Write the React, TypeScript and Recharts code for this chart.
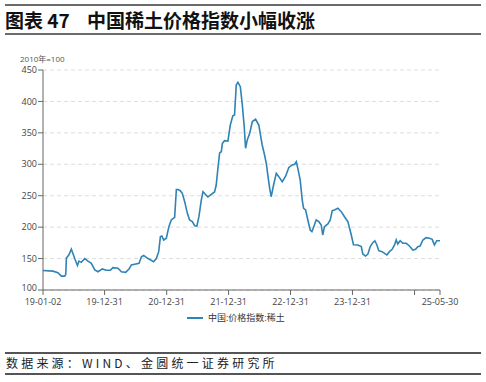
import { LineChart, Line, XAxis, YAxis, CartesianGrid } from 'recharts';

// 中国:价格指数:稀土 (2010年=100)
const dates = [
  '2019-01-02', '2019-03-02', '2019-03-31', '2019-04-20', '2019-05-10', '2019-05-16', '2019-05-20',
  '2019-06-04', '2019-06-18', '2019-07-08', '2019-07-24', '2019-08-02', '2019-08-16', '2019-09-05',
  '2019-09-24', '2019-10-14', '2019-11-03', '2019-11-22', '2019-12-18', '2020-01-10', '2020-02-03',
  '2020-02-18', '2020-03-19', '2020-04-08', '2020-05-03', '2020-05-23', '2020-06-06', '2020-06-25',
  '2020-07-21', '2020-08-04', '2020-08-17', '2020-09-12', '2020-10-15', '2020-10-31', '2020-11-14',
  '2020-11-24', '2020-12-03', '2020-12-13', '2020-12-29', '2021-01-13', '2021-01-27', '2021-02-16',
  '2021-02-26', '2021-03-07', '2021-03-21', '2021-04-02', '2021-04-16', '2021-05-02', '2021-05-15',
  '2021-05-31', '2021-06-14', '2021-06-27', '2021-07-09', '2021-07-23', '2021-08-02', '2021-08-13',
  '2021-08-31', '2021-09-14', '2021-10-09', '2021-10-19', '2021-10-29', '2021-11-08', '2021-11-18',
  '2021-11-24', '2021-12-07', '2021-12-27', '2022-01-10', '2022-01-25', '2022-02-04', '2022-02-14',
  '2022-02-24', '2022-03-10', '2022-03-22', '2022-04-02', '2022-04-10', '2022-04-20', '2022-05-04',
  '2022-05-20', '2022-06-08', '2022-06-27', '2022-07-17', '2022-07-31', '2022-08-10', '2022-08-19',
  '2022-08-30', '2022-09-08', '2022-09-22', '2022-10-08', '2022-10-23', '2022-11-12', '2022-12-02',
  '2022-12-21', '2023-01-10', '2023-01-24', '2023-02-03', '2023-02-12', '2023-02-26', '2023-03-10',
  '2023-03-18', '2023-03-30', '2023-04-12', '2023-04-26', '2023-05-06', '2023-05-17', '2023-05-31',
  '2023-06-16', '2023-06-30', '2023-07-09', '2023-07-19', '2023-08-08', '2023-08-22', '2023-09-03',
  '2023-09-16', '2023-10-06', '2023-10-26', '2023-11-14', '2023-12-04', '2023-12-14', '2023-12-24',
  '2024-01-06', '2024-02-01', '2024-02-21', '2024-03-01', '2024-03-17', '2024-03-31', '2024-04-14',
  '2024-04-29', '2024-05-11', '2024-05-23', '2024-06-03', '2024-06-23', '2024-07-07', '2024-07-21',
  '2024-08-05', '2024-08-21', '2024-09-04', '2024-09-14', '2024-09-23', '2024-10-07', '2024-10-23',
  '2024-11-12', '2024-12-01', '2024-12-21', '2025-01-06', '2025-01-19', '2025-02-02', '2025-02-18',
  '2025-03-10', '2025-03-29', '2025-04-14', '2025-04-27', '2025-05-11', '2025-05-30',
];

const values = [
  131, 130, 127.5, 122, 122, 125, 151,
  156, 165, 150, 139, 146, 144, 150,
  146, 142.5, 132, 129, 133.5, 131.5, 131.5,
  135.5, 134.5, 129, 128, 133.5, 140, 141,
  142.5, 153, 155, 150, 145, 150, 161,
  185, 186, 179.6, 182.3, 200.7, 211.4, 215.7,
  260, 260, 258, 253.8, 240.5, 222, 211.4,
  208.7, 202.3, 201.8, 216.6, 243, 256.4, 253,
  248, 251, 256, 267, 293.6, 318, 320,
  333, 337.6, 337, 362.5, 377, 378.4, 426,
  430.4, 423.5, 394, 360, 325.4, 338.7, 349,
  368, 371.6, 362.5, 330.7, 314.8, 301.6, 283,
  261.8, 248.4, 267, 285.7, 280.3, 272.3, 281,
  295, 299, 300, 304, 293.6, 275, 243,
  230, 227.3, 211.4, 195.5, 192.8, 200.7, 211.4,
  208.7, 203.4, 187.5, 200.7, 205, 211.4, 226.2,
  227.3, 230, 224.6, 216.6, 208.7, 198.2, 187.5,
  172, 171.6, 169, 157.3, 154, 157.3, 169,
  175.3, 178.4, 171.6, 162.5, 161, 158.4, 155.7,
  161, 164.7, 171.6, 179.6, 173.2, 178.4, 174.3,
  174.3, 170, 163.6, 164.7, 168.9, 170, 179.6,
  183.2, 182.3, 180.6, 171.6, 178.4, 178.4,
];

const xTickDates = ['2019-01-02', '2019-12-31', '2020-12-31', '2021-12-31', '2022-12-31', '2023-12-31', '2024-12-31', '2025-05-30'];
const hiddenTickDates = ['2024-12-31'];
const yTicks = [100, 150, 200, 250, 300, 350, 400, 450];

const seriesName = '中国:价格指数:稀土';
const unitLabel = '2010年=100';
const title = '图表 47';
const subtitle = '中国稀土价格指数小幅收涨';
const source = '数据来源：WIND、金圆统一证券研究所';

const toTime = (d: string) => Date.parse(d + 'T00:00:00Z');

const data = dates.map((d, i) => ({ t: toTime(d), value: values[i] }));
const xTicks = xTickDates.map(toTime);
const hidden = hiddenTickDates.map(toTime);

const fmtDate = (t: number) => {
  if (hidden.includes(t)) return '';
  const d = new Date(t);
  const yy = String(d.getUTCFullYear()).slice(2);
  const mm = String(d.getUTCMonth() + 1).padStart(2, '0');
  const dd = String(d.getUTCDate()).padStart(2, '0');
  return `${yy}-${mm}-${dd}`;
};

const LINE_COLOR = '#2f83b5';
const FONT = '"Open Sans", "Noto Sans CJK SC", sans-serif';

// y 轴刻度：最低的 100 稍微上移，避免和日期标签挤在一起
const YTick = (props: any) => {
  const { x, y, payload } = props;
  const shift = payload.value === yTicks[0] ? -2 : 0;
  return (
    <text x={x} y={y + shift} dy="0.355em" textAnchor="end" fontSize={9} fill="#444" fontFamily={FONT}>
      {payload.value}
    </text>
  );
};

export default function App() {
  return (
    <div
      style={{
        position: 'absolute',
        left: 0,
        top: 0,
        width: 486,
        height: 382,
        background: '#fff',
        fontFamily: FONT,
        overflow: 'hidden',
      }}
    >
      {/* 标题 */}
      <div style={{ position: 'absolute', left: 5, top: 4, width: 476, height: 2, background: '#6b6b6b' }} />
      <div
        style={{
          position: 'absolute',
          left: 5,
          top: 7,
          fontFamily: '"Noto Sans CJK SC", sans-serif',
          fontWeight: 700,
          fontSize: 19,
          lineHeight: '26px',
          color: '#111',
          whiteSpace: 'pre',
          display: 'flex',
        }}
      >
        <span>{title}</span>
        <span style={{ position: 'absolute', left: 82 }}>{subtitle}</span>
      </div>
      <div style={{ position: 'absolute', left: 5, top: 33, width: 476, height: 2, background: '#6b6b6b' }} />

      <div style={{ position: 'absolute', left: 20, top: 53, fontSize: 8, color: '#555' }}>{unitLabel}</div>

      <div style={{ position: 'absolute', left: 0, top: 0 }}>
        <LineChart width={486} height={330} data={data} margin={{ top: 70, right: 46, bottom: 20, left: 8 }}>
          <CartesianGrid vertical={false} stroke="#dddddd" strokeDasharray="4 3" />
          <XAxis
            dataKey="t"
            type="number"
            scale="linear"
            domain={[xTicks[0], xTicks[xTicks.length - 1]]}
            ticks={xTicks}
            tickFormatter={fmtDate}
            interval={0}
            height={20}
            tick={{ fontSize: 9, fill: '#444', fontFamily: FONT }}
            tickSize={5}
            tickMargin={4}
            stroke="#666"
          />
          <YAxis
            type="number"
            domain={[100, 450]}
            ticks={yTicks}
            interval={0}
            width={35}
            tick={<YTick />}
            tickSize={5}
            tickMargin={1}
            stroke="#666"
          />
          <Line
            type="linear"
            dataKey="value"
            stroke={LINE_COLOR}
            strokeWidth={1.6}
            dot={false}
            isAnimationActive={false}
          />
        </LineChart>
      </div>

      {/* 图例 */}
      <div
        style={{
          position: 'absolute',
          left: 187,
          top: 311,
          display: 'flex',
          alignItems: 'center',
          gap: 5,
          fontSize: 9,
          color: '#333',
        }}
      >
        <span style={{ width: 16, height: 2, background: LINE_COLOR, display: 'inline-block' }} />
        <span>{seriesName}</span>
      </div>

      {/* 数据来源 */}
      <div style={{ position: 'absolute', left: 5, top: 352, width: 476, height: 1.5, background: '#555' }} />
      <div
        style={{
          position: 'absolute',
          left: 6,
          top: 355,
          fontFamily: '"Noto Sans CJK SC", sans-serif',
          fontSize: 12,
          lineHeight: '16px',
          letterSpacing: 3.2,
          color: '#222',
          whiteSpace: 'pre',
        }}
      >
        {source}
      </div>
      <div style={{ position: 'absolute', left: 5, top: 373, width: 476, height: 1.5, background: '#555' }} />
    </div>
  );
}
